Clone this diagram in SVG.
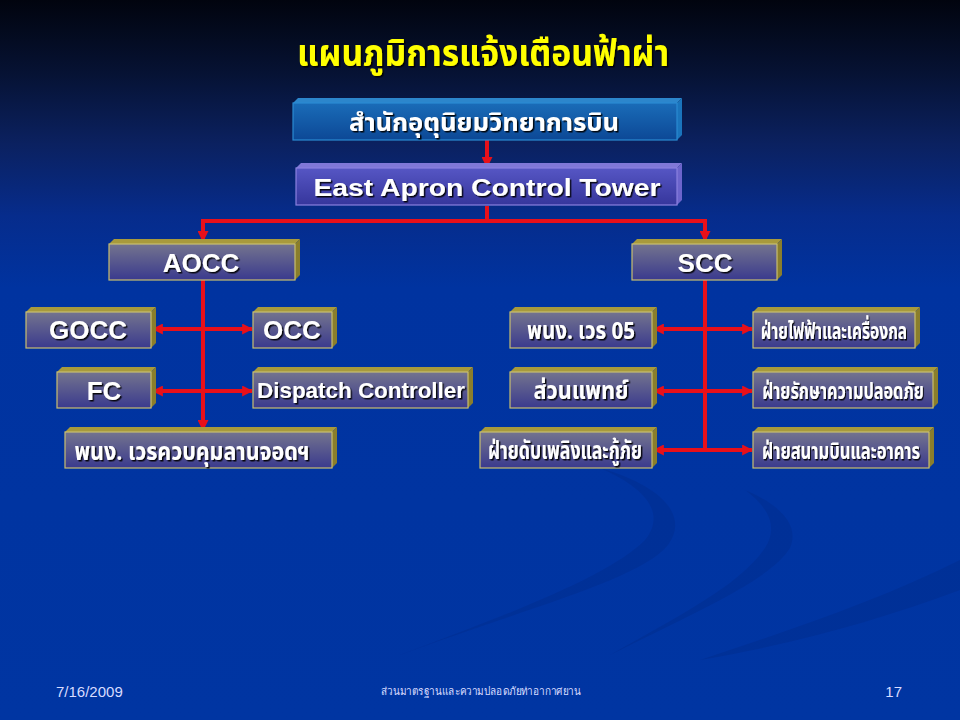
<svg xmlns="http://www.w3.org/2000/svg" width="960" height="720" viewBox="0 0 960 720">
<defs>
<linearGradient id="bg" x1="0" y1="0" x2="0" y2="1">
<stop offset="0" stop-color="#01040e"/>
<stop offset="0.1" stop-color="#061233"/>
<stop offset="0.2" stop-color="#0b2160"/>
<stop offset="0.3" stop-color="#062c8c"/>
<stop offset="0.4" stop-color="#0033a0"/>
<stop offset="1" stop-color="#0035a2"/>
</linearGradient>
<linearGradient id="goldFront" x1="0" y1="0" x2="0" y2="1">
<stop offset="0" stop-color="#74748e"/>
<stop offset="1" stop-color="#3a3a8e"/>
</linearGradient>
<linearGradient id="tealFront" x1="0" y1="0" x2="0" y2="1">
<stop offset="0" stop-color="#1a6cb8"/>
<stop offset="1" stop-color="#0c4896"/>
</linearGradient>
<linearGradient id="purpFront" x1="0" y1="0" x2="0" y2="1">
<stop offset="0" stop-color="#5656c4"/>
<stop offset="1" stop-color="#36369c"/>
</linearGradient>
<filter id="sh" x="-10%" y="-20%" width="120%" height="140%">
<feDropShadow dx="1.5" dy="1.5" stdDeviation="0.4" flood-color="#000" flood-opacity="0.9"/>
</filter>
<marker id="ah" viewBox="0 0 10 10" refX="9" refY="5" markerWidth="11" markerHeight="11" markerUnits="userSpaceOnUse" orient="auto-start-reverse">
<path d="M0,0 L10,5 L0,10 z" fill="#e8101a"/>
</marker>
</defs>
<style>
.gf{fill:url(#goldFront);stroke:#c8bf70;stroke-width:1.2}
.gt{fill:#a89a3c}
.gs{fill:#8a7e2c}
.en{font-family:"Liberation Sans",Arial,sans-serif;font-weight:bold;fill:#fff;text-anchor:middle;filter:url(#sh)}
.th{font-family:"Noto Sans Thai","Noto Serif Thai","Tlwg Typist","Loma","Garuda","Liberation Sans",sans-serif;font-weight:bold;fill:#fff;text-anchor:middle;filter:url(#sh)}
.ln{fill:none;stroke:#e8101a;stroke-width:4}
.ft{font-family:"Liberation Sans",Arial,sans-serif;fill:#d8dcff}
</style>
<rect x="0" y="0" width="960" height="720" fill="url(#bg)"/>
<g id="swoosh" fill="#002a86" opacity="0.35">
<path d="M400,655 C520,610 640,580 668,545 C690,515 660,485 600,468 C650,490 665,515 645,540 C610,575 520,610 400,655 z"/>
<path d="M610,655 C700,610 770,580 790,548 C800,525 780,505 745,490 C770,508 778,528 765,548 C740,585 680,615 610,655 z"/>
<path d="M700,660 C790,630 880,600 960,560 L960,590 C880,620 790,645 700,660 z"/>
</g>
<text id="title" x="483" y="66" font-family="'Noto Sans Thai','Noto Serif Thai','Tlwg Typist','Loma',sans-serif" font-size="38" font-weight="bold" fill="#ffff00" text-anchor="middle" textLength="372" lengthAdjust="spacingAndGlyphs" filter="url(#sh)">แผนภูมิการแจ้งเตือนฟ้าผ่า</text>

<g id="connectors">
<line class="ln" x1="487" y1="140" x2="487" y2="167" stroke-width="3" marker-end="url(#ah)"/>
<path class="ln" d="M487,206 V221 H203 V241" marker-end="url(#ah)"/>
<path class="ln" d="M487,221 H705 V241" marker-end="url(#ah)"/>
<path class="ln" d="M203,280 V430" marker-end="url(#ah)"/>
<line class="ln" x1="153" y1="329" x2="252" y2="329" marker-start="url(#ah)" marker-end="url(#ah)"/>
<line class="ln" x1="153" y1="391" x2="252" y2="391" marker-start="url(#ah)" marker-end="url(#ah)"/>
<path class="ln" d="M705,279 V450"/>
<line class="ln" x1="654" y1="329" x2="752" y2="329" marker-start="url(#ah)" marker-end="url(#ah)"/>
<line class="ln" x1="654" y1="391" x2="752" y2="391" marker-start="url(#ah)" marker-end="url(#ah)"/>
<line class="ln" x1="654" y1="450" x2="752" y2="450" marker-start="url(#ah)" marker-end="url(#ah)"/>
</g>

<g id="n-met">
<polygon points="293,103 298,98 682,98 677,103" fill="#2c86cc"/>
<polygon points="677,103 682,98 682,135 677,140" fill="#1a74bc"/>
<rect x="293" y="103" width="384" height="37" fill="url(#tealFront)" stroke="#2a8ad2" stroke-width="1.2"/>
<text class="th" x="484" y="131" font-size="25" font-weight="normal" textLength="270" lengthAdjust="spacingAndGlyphs">สำนักอุตุนิยมวิทยาการบิน</text>
</g>
<g id="n-east">
<polygon points="296,168 301,163 682,163 677,168" fill="#8078d8"/>
<polygon points="677,168 682,163 682,200 677,205" fill="#6c64cc"/>
<rect x="296" y="168" width="381" height="37" fill="url(#purpFront)" stroke="#8a80e0" stroke-width="1.2"/>
<text class="en" x="487" y="196" font-size="24" textLength="347" lengthAdjust="spacingAndGlyphs">East Apron Control Tower</text>
</g>

<g id="n-aocc">
<polygon class="gt" points="109,244 114,239 300,239 295,244"/>
<polygon class="gs" points="295,244 300,239 300,275 295,280"/>
<rect class="gf" x="109" y="244" width="186" height="36"/>
<text class="en" x="201" y="272" font-size="26">AOCC</text>
</g>
<g id="n-scc">
<polygon class="gt" points="632,244 637,239 782,239 777,244"/>
<polygon class="gs" points="777,244 782,239 782,275 777,280"/>
<rect class="gf" x="632" y="244" width="145" height="36"/>
<text class="en" x="705" y="272" font-size="26">SCC</text>
</g>

<g id="n-gocc">
<polygon class="gt" points="26,312 31,307 156,307 151,312"/>
<polygon class="gs" points="151,312 156,307 156,343 151,348"/>
<rect class="gf" x="26" y="312" width="125" height="36"/>
<text class="en" x="88" y="339" font-size="26">GOCC</text>
</g>
<g id="n-occ">
<polygon class="gt" points="253,312 258,307 337,307 332,312"/>
<polygon class="gs" points="332,312 337,307 337,343 332,348"/>
<rect class="gf" x="253" y="312" width="79" height="36"/>
<text class="en" x="292" y="339" font-size="26">OCC</text>
</g>
<g id="n-fc">
<polygon class="gt" points="57,372 62,367 156,367 151,372"/>
<polygon class="gs" points="151,372 156,367 156,403 151,408"/>
<rect class="gf" x="57" y="372" width="94" height="36"/>
<text class="en" x="104" y="400" font-size="26">FC</text>
</g>
<g id="n-dispatch">
<polygon class="gt" points="253,372 258,367 473,367 468,372"/>
<polygon class="gs" points="468,372 473,367 473,403 468,408"/>
<rect class="gf" x="253" y="372" width="215" height="36"/>
<text class="en" x="361" y="398" font-size="22" textLength="208" lengthAdjust="spacingAndGlyphs">Dispatch Controller</text>
</g>
<g id="n-apron">
<polygon class="gt" points="65,432 70,427 337,427 332,432"/>
<polygon class="gs" points="332,432 337,427 337,463 332,468"/>
<rect class="gf" x="65" y="432" width="267" height="36"/>
<text class="th" x="192" y="460" font-size="24" textLength="235" lengthAdjust="spacingAndGlyphs">พนง. เวรควบคุมลานจอดฯ</text>
</g>

<g id="n-duty05">
<polygon class="gt" points="510,312 515,307 657,307 652,312"/>
<polygon class="gs" points="652,312 657,307 657,343 652,348"/>
<rect class="gf" x="510" y="312" width="142" height="36"/>
<text class="th" x="581" y="339" font-size="24" textLength="108" lengthAdjust="spacingAndGlyphs">พนง. เวร 05</text>
</g>
<g id="n-medical">
<polygon class="gt" points="510,372 515,367 657,367 652,372"/>
<polygon class="gs" points="652,372 657,367 657,403 652,408"/>
<rect class="gf" x="510" y="372" width="142" height="36"/>
<text class="th" x="581" y="399" font-size="24" textLength="95" lengthAdjust="spacingAndGlyphs">ส่วนแพทย์</text>
</g>
<g id="n-fire">
<polygon class="gt" points="480,432 485,427 657,427 652,432"/>
<polygon class="gs" points="652,432 657,427 657,463 652,468"/>
<rect class="gf" x="480" y="432" width="172" height="36"/>
<text class="th" x="565" y="459" font-size="24" textLength="154" lengthAdjust="spacingAndGlyphs">ฝ่ายดับเพลิงและกู้ภัย</text>
</g>
<g id="n-elec">
<polygon class="gt" points="753,312 758,307 920,307 915,312"/>
<polygon class="gs" points="915,312 920,307 920,343 915,348"/>
<rect class="gf" x="753" y="312" width="162" height="36"/>
<g transform="translate(834,339) scale(0.7,1)">
<text class="th" x="0" y="0" font-size="23" textLength="209" lengthAdjust="spacingAndGlyphs">ฝ่ายไฟฟ้าและเครื่องกล</text>
</g>
</g>
<g id="n-security">
<polygon class="gt" points="753,372 758,367 938,367 933,372"/>
<polygon class="gs" points="933,372 938,367 938,403 933,408"/>
<rect class="gf" x="753" y="372" width="180" height="36"/>
<g transform="translate(843,399) scale(0.7,1)">
<text class="th" x="0" y="0" font-size="23" textLength="231" lengthAdjust="spacingAndGlyphs">ฝ่ายรักษาความปลอดภัย</text>
</g>
</g>
<g id="n-airport">
<polygon class="gt" points="753,432 758,427 934,427 929,432"/>
<polygon class="gs" points="929,432 934,427 934,463 929,468"/>
<rect class="gf" x="753" y="432" width="176" height="36"/>
<g transform="translate(841,459) scale(0.7,1)">
<text class="th" x="0" y="0" font-size="23" textLength="226" lengthAdjust="spacingAndGlyphs">ฝ่ายสนามบินและอาคาร</text>
</g>
</g>

<g id="footer">
<text class="ft" x="56" y="697" font-size="15">7/16/2009</text>
<text class="ft" x="481" y="695" font-size="11" text-anchor="middle" textLength="200" lengthAdjust="spacingAndGlyphs" font-family="'Noto Sans Thai','Loma',sans-serif">ส่วนมาตรฐานและความปลอดภัยท่าอากาศยาน</text>
<text class="ft" x="902" y="697" font-size="15" text-anchor="end">17</text>
</g>
</svg>
